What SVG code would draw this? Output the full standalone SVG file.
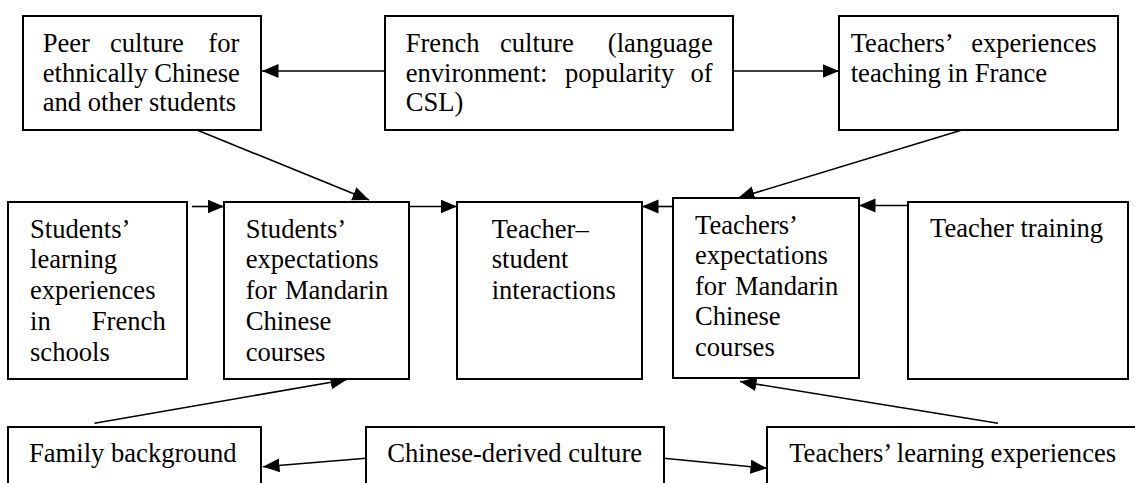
<svg xmlns="http://www.w3.org/2000/svg" width="1135" height="483" viewBox="0 0 1135 483" font-family="'Liberation Serif', 'DejaVu Serif', serif">
  <style>
    .box { fill: #ffffff; stroke: #000000; stroke-width: 2; }
    .t { font-family: 'Liberation Serif', 'DejaVu Serif', serif; font-size: 26.6px; fill: #000000; }
    .e { text-anchor: end; }
    .c { fill: none; stroke: #000000; stroke-width: 1.6; marker-end: url(#ah); }
  </style>
  <defs>
    <marker id="ah" markerUnits="userSpaceOnUse" markerWidth="18" markerHeight="15" refX="16.5" refY="7" orient="auto">
      <path d="M0,0 L16.5,7 L0,14 z" fill="#000000"/>
    </marker>
  </defs>
  <rect width="1135" height="483" fill="#ffffff"/>

  <g id="connectors">
    <line class="c" x1="385" y1="71" x2="262" y2="71"/>
    <line class="c" x1="733" y1="71" x2="839" y2="71"/>
    <line class="c" x1="197" y1="130" x2="369" y2="200"/>
    <line class="c" x1="962" y1="130" x2="738" y2="198"/>
    <line class="c" x1="192" y1="206.5" x2="224" y2="206.5"/>
    <line class="c" x1="409" y1="206.5" x2="457" y2="206.5"/>
    <line class="c" x1="673" y1="206.5" x2="642" y2="206.5"/>
    <line class="c" x1="908" y1="205.5" x2="859" y2="205.5"/>
    <line class="c" x1="94.5" y1="423.3" x2="347" y2="379.5"/>
    <line class="c" x1="998" y1="423.3" x2="740" y2="381.5"/>
    <line class="c" x1="366" y1="458.3" x2="263" y2="466.7"/>
    <line class="c" x1="664" y1="458.3" x2="767" y2="468.3"/>
  </g>

  <g id="peer-culture">
    <rect class="box" x="23" y="16" width="238" height="114"/>
    <text class="t"><tspan x="42.7" y="52">Peer</tspan><tspan x="110" y="52">culture</tspan><tspan class="e" x="239.3" y="52">for</tspan></text>
    <text class="t" x="42.7" y="81.5">ethnically Chinese</text>
    <text class="t" x="42.7" y="111">and other students</text>
  </g>

  <g id="french-culture">
    <rect class="box" x="385" y="16" width="348" height="114"/>
    <text class="t"><tspan x="405.7" y="52">French</tspan><tspan x="500" y="52">culture</tspan><tspan class="e" x="712.7" y="52">(language</tspan></text>
    <text class="t"><tspan x="405.7" y="81.5">environment:</tspan><tspan x="565" y="81.5">popularity</tspan><tspan class="e" x="712.7" y="81.5">of</tspan></text>
    <text class="t" x="405.7" y="111">CSL)</text>
  </g>

  <g id="teachers-experiences-france">
    <rect class="box" x="839" y="16" width="279" height="114"/>
    <text class="t"><tspan x="850.7" y="52">Teachers’</tspan><tspan class="e" x="1096.7" y="52">experiences</tspan></text>
    <text class="t" x="850.7" y="81.5">teaching in France</text>
  </g>

  <g id="students-learning">
    <rect class="box" x="8" y="202" width="179" height="177"/>
    <text class="t" x="30" y="237.5">Students’</text>
    <text class="t" x="30" y="268.3">learning</text>
    <text class="t" x="30" y="299">experiences</text>
    <text class="t"><tspan x="30" y="329.8">in</tspan><tspan class="e" x="165.7" y="329.8">French</tspan></text>
    <text class="t" x="30" y="360.5">schools</text>
  </g>

  <g id="students-expectations">
    <rect class="box" x="224" y="202" width="185" height="177"/>
    <text class="t" x="245.7" y="237.5">Students’</text>
    <text class="t" x="245.7" y="268.3">expectations</text>
    <text class="t"><tspan x="245.7" y="299">for</tspan><tspan class="e" x="388.3" y="299">Mandarin</tspan></text>
    <text class="t" x="245.7" y="329.8">Chinese</text>
    <text class="t" x="245.7" y="360.5">courses</text>
  </g>

  <g id="teacher-student">
    <rect class="box" x="457" y="202" width="185" height="177"/>
    <text class="t" x="491.7" y="237.5">Teacher–</text>
    <text class="t" x="491.7" y="268.3">student</text>
    <text class="t" x="491.7" y="299">interactions</text>
  </g>

  <g id="teachers-expectations">
    <rect class="box" x="673" y="198" width="186" height="180"/>
    <text class="t" x="695" y="233.5">Teachers’</text>
    <text class="t" x="695" y="264.1">expectations</text>
    <text class="t"><tspan x="695" y="294.7">for</tspan><tspan class="e" x="838.3" y="294.7">Mandarin</tspan></text>
    <text class="t" x="695" y="325.3">Chinese</text>
    <text class="t" x="695" y="355.9">courses</text>
  </g>

  <g id="teacher-training">
    <rect class="box" x="908" y="202" width="220" height="177"/>
    <text class="t" x="930" y="237">Teacher training</text>
  </g>

  <g id="family-background">
    <rect class="box" x="8" y="427" width="253" height="80"/>
    <text class="t" x="29" y="462">Family background</text>
  </g>

  <g id="chinese-derived-culture">
    <rect class="box" x="366" y="427" width="298" height="80"/>
    <text class="t" x="387.3" y="462">Chinese-derived culture</text>
  </g>

  <g id="teachers-learning">
    <rect class="box" x="767" y="427" width="400" height="80"/>
    <text class="t" x="789.2" y="462">Teachers’ learning experiences</text>
  </g>
</svg>
